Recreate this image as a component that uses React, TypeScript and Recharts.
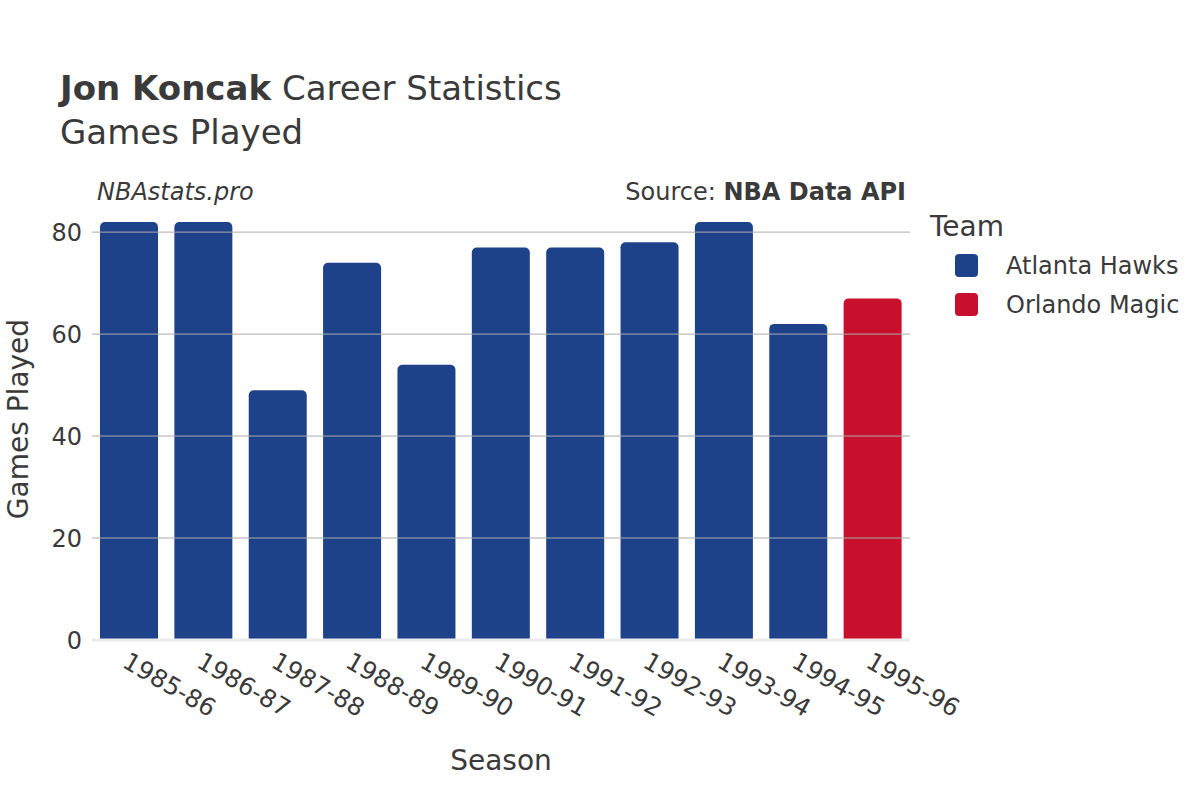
import * as React from "react";
import { BarChart, Bar, Cell, XAxis, YAxis, ReferenceLine } from "recharts";

// values
const seasons = [
  "1985-86",
  "1986-87",
  "1987-88",
  "1988-89",
  "1989-90",
  "1990-91",
  "1991-92",
  "1992-93",
  "1993-94",
  "1994-95",
  "1995-96",
];
const gamesPlayed = [82, 82, 49, 74, 54, 77, 77, 78, 82, 62, 67];
const seasonTeams = [
  "Atlanta Hawks",
  "Atlanta Hawks",
  "Atlanta Hawks",
  "Atlanta Hawks",
  "Atlanta Hawks",
  "Atlanta Hawks",
  "Atlanta Hawks",
  "Atlanta Hawks",
  "Atlanta Hawks",
  "Atlanta Hawks",
  "Orlando Magic",
];
const teams = ["Atlanta Hawks", "Orlando Magic"];
const teamColors: Record<string, string> = {
  "Atlanta Hawks": "#1d428a",
  "Orlando Magic": "#c8102e",
};
const yTicks = [0, 20, 40, 60, 80];

const data = seasons.map((season, i) => ({
  season,
  games: gamesPlayed[i],
  team: seasonTeams[i],
}));

const FONT = "'DejaVu Sans', sans-serif";
const TEXT = "#3a3a3a";
const GRID = "#ababab";

const SeasonTick = ({ x, y, payload }: any) => (
  <text
    transform={`translate(${x - 4},${y + 11}) rotate(30)`}
    textAnchor="start"
    dominantBaseline="central"
    fontSize={24.5}
    fill={TEXT}
    fontFamily={FONT}
  >
    {payload.value}
  </text>
);

export default function App() {
  return (
    <div
      style={{
        position: "absolute",
        left: 0,
        top: 0,
        width: 1200,
        height: 800,
        background: "#fff",
        fontFamily: FONT,
      }}
    >
      <BarChart
        width={1200}
        height={800}
        data={data}
        margin={{ top: 200, right: 290, bottom: 0, left: 0 }}
        barCategoryGap={8}
      >
        <XAxis
          dataKey="season"
          height={160}
          tickLine={false}
          axisLine={false}
          interval={0}
          tick={<SeasonTick />}
        />
        <YAxis
          width={92}
          domain={[0, 86.3]}
          ticks={yTicks}
          allowDataOverflow
          axisLine={false}
          tickLine={false}
          tickMargin={4}
          tick={{ fontSize: 24, fill: TEXT, fontFamily: FONT }}
        />
        {yTicks
          .filter((t) => t > 0)
          .map((t) => (
            <ReferenceLine key={t} y={t} stroke={GRID} strokeWidth={1} />
          ))}
        <ReferenceLine y={0} stroke="#ebebeb" strokeWidth={3} />
        <Bar dataKey="games" radius={[5, 5, 0, 0]} isAnimationActive={false}>
          {data.map((d, i) => (
            <Cell key={`cell-${i}`} fill={teamColors[d.team]} />
          ))}
        </Bar>
      </BarChart>

      <svg
        width={1200}
        height={800}
        style={{ position: "absolute", left: 0, top: 0, pointerEvents: "none" }}
        fontFamily={FONT}
      >
        <text x={60} y={100} fontSize={34} fill={TEXT}>
          <tspan fontWeight="bold">Jon Koncak</tspan>
          <tspan> Career Statistics</tspan>
        </text>
        <text x={60} y={144} fontSize={34} fill={TEXT}>
          Games Played
        </text>
        <text x={97} y={200} fontSize={24} fontStyle="italic" fill={TEXT}>
          NBAstats.pro
        </text>
        <text x={906} y={200} fontSize={24} textAnchor="end" fill={TEXT}>
          <tspan>Source: </tspan>
          <tspan fontWeight="bold">NBA Data API</tspan>
        </text>
        <text x={501} y={770} fontSize={28} textAnchor="middle" fill={TEXT}>
          Season
        </text>
        <text
          transform="translate(28,419) rotate(-90)"
          fontSize={28}
          textAnchor="middle"
          fill={TEXT}
        >
          Games Played
        </text>
        <text x={930} y={236} fontSize={28} fill={TEXT}>
          Team
        </text>
        {teams.map((t, i) => (
          <g key={t}>
            <rect
              x={955}
              y={254 + i * 39}
              width={23}
              height={23}
              rx={4}
              fill={teamColors[t]}
            />
            <text x={1006} y={274 + i * 39} fontSize={24} fill={TEXT}>
              {t}
            </text>
          </g>
        ))}
      </svg>
    </div>
  );
}
